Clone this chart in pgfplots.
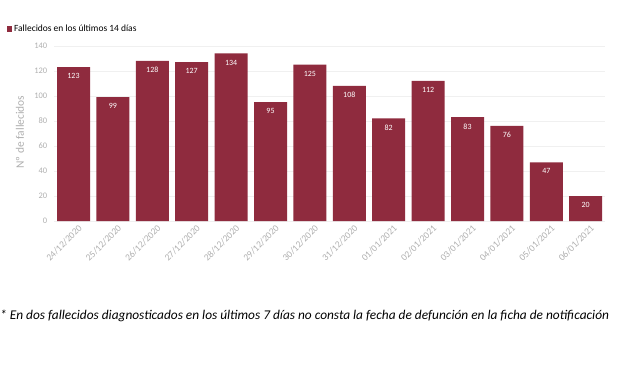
\documentclass[border=0pt]{standalone}
\usepackage{pgfplots}
\pgfplotsset{compat=1.18}
\usepackage{fontspec}
\setmainfont{Carlito}
\definecolor{barred}{RGB}{143,43,62}
\definecolor{ticks}{RGB}{175,175,175}
\definecolor{gridc}{RGB}{240,240,240}
\begin{document}
\begin{tikzpicture}[x=1bp,y=1bp]
\useasboundingbox (0,0) rectangle (620,368);
\begin{axis}[
  at={(53.8bp,147bp)}, anchor=south west,
  scale only axis, width=551.6bp, height=175bp,
  ybar, bar width=33bp,
  xmin=-0.5, xmax=13.5, ymin=0, ymax=140,
  ytick={0,20,...,140},
  xtick=data,
  xticklabels={24/12/2020,25/12/2020,26/12/2020,27/12/2020,28/12/2020,29/12/2020,30/12/2020,31/12/2020,01/01/2021,02/01/2021,03/01/2021,04/01/2021,05/01/2021,06/01/2021},
  x tick label style={rotate=45, anchor=north east, font=\fontsize{9.5}{10}\selectfont, text=ticks, xshift=4bp, yshift=-2bp},
  y tick label style={font=\fontsize{8.5}{9}\selectfont, text=ticks, xshift=-3bp},
  /pgf/number format/assume math mode=true,
  axis line style={draw=none},
  major tick length=0pt,
  ymajorgrids, grid style={gridc, line width=0.6bp},
  nodes near coords,
  every node near coord/.append style={anchor=north, yshift=-3bp, text=white, font=\fontsize{8}{9}\selectfont},
  legend style={at={(-0.085,1.097)}, anchor=west, draw=none, fill=none, font=\fontsize{9.5}{10}\selectfont, inner sep=0pt, legend cell align=left},
  legend image code/.code={\fill[barred] (0bp,-3bp) rectangle (5bp,3bp);},
  clip=false,
]
\addplot[fill=barred, draw=none] coordinates {
(0,123) (1,99) (2,128) (3,127) (4,134) (5,95) (6,125) (7,108) (8,82) (9,112) (10,83) (11,76) (12,47) (13,20)};
\addlegendentry{Fallecidos en los últimos 14 días}
\end{axis}
\node[rotate=90, text=ticks, font=\fontsize{11.5}{12}\selectfont] at (20,236) {Nº de fallecidos};
\node[anchor=west, font=\fontsize{13.4}{14}\selectfont\itshape, inner sep=0pt] at (0,52) {* En dos fallecidos diagnosticados en los últimos 7 días no consta la fecha de defunción en la ficha de notificación};
\end{tikzpicture}
\end{document}
